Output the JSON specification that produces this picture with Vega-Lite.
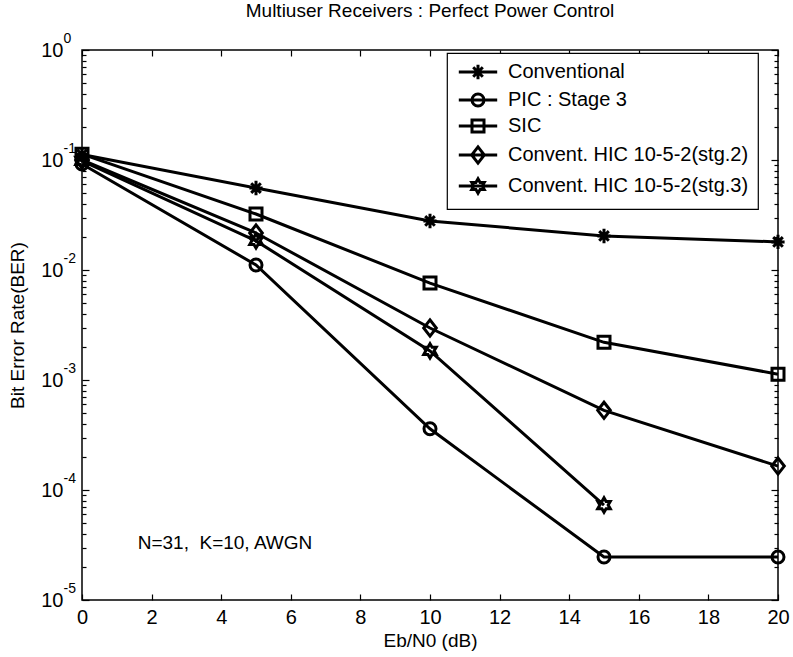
{
  "$schema": "https://vega.github.io/schema/vega-lite/v6.json",
  "width": 696,
  "height": 550,
  "autosize": "none",
  "padding": {"left": 82, "top": 50, "right": 15, "bottom": 57},
  "background": "white",
  "title": {"text": "Multiuser Receivers : Perfect Power Control", "fontSize": 19, "font": "Liberation Sans", "fontWeight": "normal", "color": "black", "offset": 10, "anchor": "middle"},
  "config": {
    "view": {"stroke": "black", "strokeWidth": 1.5},
    "axis": {"labelFont": "Liberation Sans", "titleFont": "Liberation Sans", "labelColor": "black", "titleColor": "black", "grid": false, "domain": false, "tickColor": "black", "tickWidth": 1.2, "titleFontWeight": "normal", "labelFlush": false, "labelOverlap": false, "labelBound": false},
    "legend": {"strokeColor": "black", "strokeWidth": 1.2, "fillColor": "white"}
  },
  "data": {"values": [
    {"series": "Conventional", "ebn0": 0, "ber": 0.112},
    {"series": "Conventional", "ebn0": 5, "ber": 0.0556},
    {"series": "Conventional", "ebn0": 10, "ber": 0.0279},
    {"series": "Conventional", "ebn0": 15, "ber": 0.0204},
    {"series": "Conventional", "ebn0": 20, "ber": 0.018},
    {"series": "PIC : Stage 3", "ebn0": 0, "ber": 0.092},
    {"series": "PIC : Stage 3", "ebn0": 5, "ber": 0.0111},
    {"series": "PIC : Stage 3", "ebn0": 10, "ber": 0.00036},
    {"series": "PIC : Stage 3", "ebn0": 15, "ber": 0.0000246},
    {"series": "PIC : Stage 3", "ebn0": 20, "ber": 0.0000246},
    {"series": "SIC", "ebn0": 0, "ber": 0.113},
    {"series": "SIC", "ebn0": 5, "ber": 0.0323},
    {"series": "SIC", "ebn0": 10, "ber": 0.0076},
    {"series": "SIC", "ebn0": 15, "ber": 0.0022},
    {"series": "SIC", "ebn0": 20, "ber": 0.00113},
    {"series": "Convent. HIC 10-5-2(stg.2)", "ebn0": 0, "ber": 0.1},
    {"series": "Convent. HIC 10-5-2(stg.2)", "ebn0": 5, "ber": 0.0217},
    {"series": "Convent. HIC 10-5-2(stg.2)", "ebn0": 10, "ber": 0.00297},
    {"series": "Convent. HIC 10-5-2(stg.2)", "ebn0": 15, "ber": 0.00053},
    {"series": "Convent. HIC 10-5-2(stg.2)", "ebn0": 20, "ber": 0.000165},
    {"series": "Convent. HIC 10-5-2(stg.3)", "ebn0": 0, "ber": 0.098},
    {"series": "Convent. HIC 10-5-2(stg.3)", "ebn0": 5, "ber": 0.0184},
    {"series": "Convent. HIC 10-5-2(stg.3)", "ebn0": 10, "ber": 0.00184},
    {"series": "Convent. HIC 10-5-2(stg.3)", "ebn0": 15, "ber": 0.000073}
  ]},
  "layer": [
    {
      "mark": {"type": "line", "stroke": "black", "strokeWidth": 3},
      "encoding": {
        "x": {"field": "ebn0", "type": "quantitative", "scale": {"domain": [0, 20], "nice": false},
          "axis": {"orient": "bottom", "values": [0, 2, 4, 6, 8, 10, 12, 14, 16, 18, 20], "ticks": false, "labelFontSize": 20, "labelPadding": 7, "title": "Eb/N0 (dB)", "titleFontSize": 19, "titlePadding": 4}},
        "y": {"field": "ber", "type": "quantitative", "scale": {"type": "log", "domain": [0.00001, 1], "nice": false},
          "axis": {"orient": "left", "values": [0.00001, 0.0001, 0.001, 0.01, 0.1, 1], "labelExpr": "'10'", "ticks": false, "labelFontSize": 20, "labelPadding": 19, "title": "Bit Error Rate(BER)", "titleFontSize": 19, "titlePadding": 13}},
        "detail": {"field": "series", "type": "nominal"}
      }
    },
    {
      "mark": {"type": "point", "filled": false, "stroke": "black", "strokeWidth": 3, "size": 144},
      "encoding": {
        "x": {"field": "ebn0", "type": "quantitative",
          "axis": {"orient": "bottom", "values": [0, 2, 4, 6, 8, 10, 12, 14, 16, 18, 20], "labels": false, "tickSize": -6, "title": null}},
        "y": {"field": "ber", "type": "quantitative",
          "axis": {"orient": "left", "values": [0.00001, 0.0001, 0.001, 0.01, 0.1, 1], "labels": false, "tickSize": -7, "title": null}},
        "shape": {"field": "series", "type": "nominal", "legend": null,
          "scale": {"domain": ["SIC", "Conventional", "PIC : Stage 3", "Convent. HIC 10-5-2(stg.2)", "Convent. HIC 10-5-2(stg.3)"],
            "range": [
              "M-1,-1L1,-1L1,1L-1,1Z",
              "M-1.1,0L1.1,0M0,-1.2L0,1.2M-0.8,-0.8L0.8,0.8M-0.8,0.8L0.8,-0.8",
              "M-1,0A1,1,0,1,0,1,0A1,1,0,1,0,-1,0Z",
              "M0,-1.35L1.05,0L0,1.35L-1.05,0Z",
              "M0,-1.2L0.346,-0.6L1.039,-0.6L0.693,0L1.039,0.6L0.346,0.6L0,1.2L-0.346,0.6L-1.039,0.6L-0.693,0L-1.039,-0.6L-0.346,-0.6Z"
            ]}},
        "opacity": {"field": "series", "type": "ordinal",
          "scale": {"domain": ["Conventional", "PIC : Stage 3", "SIC", "Convent. HIC 10-5-2(stg.2)", "Convent. HIC 10-5-2(stg.3)"], "range": [1, 1, 1, 1, 1]},
          "legend": {"title": null, "orient": "none", "legendX": 365, "legendY": 3, "padding": 9, "rowPadding": 2,
            "labelFontSize": 20, "labelFont": "Liberation Sans", "labelColor": "black", "labelLimit": 400,
            "symbolSize": 144, "symbolStrokeWidth": 3, "symbolStrokeColor": "black", "symbolFillColor": "transparent",
            "symbolOffset": 12, "labelOffset": 20,
            "symbolType": {"expr": "datum.value === 'Conventional' ? 'M-3.2,0L3.2,0M-1.1,0L1.1,0M0,-1.2L0,1.2M-0.8,-0.8L0.8,0.8M-0.8,0.8L0.8,-0.8' : datum.value === 'PIC : Stage 3' ? 'M-3.2,0L3.2,0M-1,0A1,1,0,1,0,1,0A1,1,0,1,0,-1,0Z' : datum.value === 'SIC' ? 'M-3.2,0L3.2,0M-1,-1L1,-1L1,1L-1,1Z' : datum.value === 'Convent. HIC 10-5-2(stg.2)' ? 'M-3.2,0L3.2,0M0,-1.35L1.05,0L0,1.35L-1.05,0Z' : 'M-3.2,0L3.2,0M0,-1.2L0.346,-0.6L1.039,-0.6L0.693,0L1.039,0.6L0.346,0.6L0,1.2L-0.346,0.6L-1.039,0.6L-0.693,0L-1.039,-0.6L-0.346,-0.6Z'"}
          }
        }
      }
    },
    {
      "data": {"values": [{"label": "N=31,\u00a0 K=10, AWGN", "x": 1.6, "y": 0.000033}]},
      "mark": {"type": "text", "align": "left", "baseline": "middle", "fontSize": 19, "font": "Liberation Sans", "color": "black"},
      "encoding": {
        "x": {"field": "x", "type": "quantitative",
          "axis": {"orient": "top", "values": [0, 2, 4, 6, 8, 10, 12, 14, 16, 18, 20], "labels": false, "tickSize": -6, "title": null}},
        "y": {"field": "y", "type": "quantitative",
          "axis": {"orient": "right", "values": [0.00001, 0.0001, 0.001, 0.01, 0.1, 1], "labels": false, "tickSize": -7, "title": null}},
        "text": {"field": "label"}
      }
    },
    {
      "mark": {"type": "point", "opacity": 0},
      "encoding": {
        "x": {"field": "ebn0", "type": "quantitative", "axis": null},
        "y": {"field": "ber", "type": "quantitative",
          "axis": {"orient": "left", "values": [0.00001, 0.0001, 0.001, 0.01, 0.1, 1], "labelExpr": "'' + round(log(datum.value)/LN10)", "ticks": false, "labelAlign": "left", "labelBaseline": "middle", "labelPadding": 19, "labelFontSize": 14, "labelOffset": -12, "title": null}}
      }
    },
    {
      "mark": {"type": "point", "opacity": 0},
      "encoding": {
        "x": {"field": "ebn0", "type": "quantitative", "axis": null},
        "y": {"field": "ber", "type": "quantitative",
          "axis": {"orient": "left", "values": [0.00002, 0.00003, 0.00004, 0.00005, 0.00006, 0.00007, 0.00008, 0.00009, 0.0002, 0.0003, 0.0004, 0.0005, 0.0006, 0.0007, 0.0008, 0.0009, 0.002, 0.003, 0.004, 0.005, 0.006, 0.007, 0.008, 0.009, 0.02, 0.03, 0.04, 0.05, 0.06, 0.07, 0.08, 0.09, 0.2, 0.3, 0.4, 0.5, 0.6, 0.7, 0.8, 0.9], "labels": false, "tickSize": -4, "title": null}}
      }
    },
    {
      "mark": {"type": "point", "opacity": 0},
      "encoding": {
        "x": {"field": "ebn0", "type": "quantitative", "axis": null},
        "y": {"field": "ber", "type": "quantitative",
          "axis": {"orient": "right", "values": [0.00002, 0.00003, 0.00004, 0.00005, 0.00006, 0.00007, 0.00008, 0.00009, 0.0002, 0.0003, 0.0004, 0.0005, 0.0006, 0.0007, 0.0008, 0.0009, 0.002, 0.003, 0.004, 0.005, 0.006, 0.007, 0.008, 0.009, 0.02, 0.03, 0.04, 0.05, 0.06, 0.07, 0.08, 0.09, 0.2, 0.3, 0.4, 0.5, 0.6, 0.7, 0.8, 0.9], "labels": false, "tickSize": -4, "title": null}}
      }
    }
  ],
  "resolve": {"axis": {"x": "independent", "y": "independent"}}
}
